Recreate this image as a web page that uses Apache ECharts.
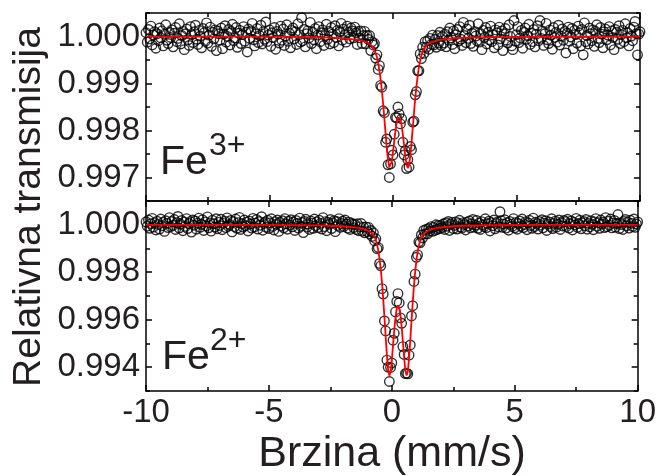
<!DOCTYPE html>
<html>
<head>
<meta charset="utf-8">
<script src="https://cdn.jsdelivr.net/npm/echarts@6/dist/echarts.min.js"></script>
<style>
  html, body { margin: 0; padding: 0; background: #ffffff; }
  #chart { width: 659px; height: 476px; }
</style>
</head>
<body>
<div id="chart"></div>
<script>
// Mössbauer spectra. Transmission is stored as (T - 1) x 1e5, one value per
// velocity channel; channels run from -10 to +10 mm/s in steps of 0.05 mm/s.
const VEL_START = -10;
const VEL_STEP = 0.05;

// Fe3+ spectrum, 401 channels
const fe3Dev = [
  8, -12, 15, -5, 22, -18, 3, 10, -25, 6, -9, 18, -3, 12, -20, 5, 25, -8, -15, 9,
  -2, 14, -22, 7, 19, -11, -4, 27, -16, 2, 11, -28, 6, 16, -7, -19, 21, 4, -13, 10,
  24, -6, -17, 13, 1, -24, 17, 8, -10, 29, -14, 3, 20, -21, 9, -5, 14, -30, 12, 6,
  -8, 18, -26, 5, 23, -12, 0, 15, -18, 11, 26, -9, -3, 19, -23, 7, 13, -15, 4, 21,
  -10, 9, -33, 16, -4, 12, 28, -7, -20, 6, 17, -13, 2, 24, -16, 10, -6, 31, -11, 3,
  14, -21, 8, -2, 19, -27, 11, 5, -14, 22, -8, 16, -19, 1, 25, -10, 7, -24, 13, 18,
  -5, 10, -17, 27, 4, -12, 40, -9, 15, -22, 6, 12, -3, 30, -15, 9, -7, 17, -26, 3,
  21, -11, 8, 14, -19, 2, 26, -6, 11, -16, 19, 5, -13, 23, -2, 13, -20, 10, 28, -8,
  16, 4, -12, 22, 9, -5, 18, 12, -3, 20,
  8, -17, 11, -3, 12, -15, 2, 11, -16, 2, -6,
  2, -30, -11, -18, -15, -46, -39, -70, -62, -104,
  -108, -158, -162, -225, -218, -273, -300, -271, -242, -252,
  -208, -172, -173, -150, -165, -186, -175, -225, -252, -243,
  -281, -262, -278, -234, -241, -182, -180, -124, -117, -73,
  -73, -37, -47, -23, -36, -11, -23, -9, -27, -4,
  -17, 3, -18, -6, -23, 2, -14, 9, -19, 0,
  -14, 5, -22, 10, -8, 18, -3, -17, 12, -26, 4, 15, -10, 21, -6, -19, 30, 2, -13, 16,
  -4, 24, -15, 7, -21, 11, 1, -9, 27, -12, 6, -28, 13, -2, 19, -16, 9, -7, 22, -11,
  3, -24, 14, 8, -18, 20, -5, 12, -30, 6, 17, -8, -14, 25, 0, -20, -28, 34, -10, 4,
  21, -13, -3, 13, -25, 9, 18, -6, 2, 26, -17, 7, -11, 15, -22, 5, 23, -9, 34, -4,
  12, -19, 6, 28, -7, -15, 14, 3, -27, 19, -2, 9, -12, 24, -18, 1, 16, -8, 11, -35,
  7, 20, -10, -1, 17, -26, 13, 4, -14, 22, 8, -20, 15, -39, 29, -11, 2, -16, 18, 6,
  -9, 14, -21, 11, 25, -4, -13, 19, 5, -24, 10, 16, -7, 3, 21, -18, 12, -2, -28, 15,
  9, -6, 23, -15, 4, 13, -11, 27, -3, 8, -20, 17, 1, -9, 20, 32, 6, -39, 5, 10
];

// Fe2+ spectrum, 401 channels
const fe2Dev = [
  12, -6, 20, -15, 4, 27, -10, 8, -22, 15, 1, -18, 24, -4, 10, -28, 17, 6, -12, 30,
  -8, 14, -3, 22, -20, 9, 35, -14, 3, 18, -25, 11, -7, 26, -16, 5, 13, -31, 20, -2,
  16, -19, 7, 28, -11, 2, 21, -24, 12, -5, 33, -13, 8, -27, 19, 4, -9, 25, -17, 10,
  -3, 23, -21, 6, 15, -12, 29, -6, 1, 18, -30, 13, -8, 24, -15, 9, 31, -20, 5, -10,
  20, -4, 11, -26, 16, 3, -14, 27, -9, 7, 22, -18, 14, -2, 34, -23, 6, 12, -11, 19,
  -16, 8, 25, -7, -22, 13, 2, 20, -28, 10, -5, 17, -13, 26, 4, -19, 15, -1, 21, -9,
  11, -24, 18, 5, -14, 28, -6, 9, -33, 14, 23, -10, 3, -20, 16, 7, -15, 24, -4, 12,
  -12, 19, 6, -18, 30, -8, 13, -25, 10, 2, 22, -16, 8, 17, -29, 14, -3, 26, -11, 5,
  15, -7, 20, 3, -14, 11, -20, 8, 2, -12,
  1, -20, 4, -25, -8, 5, -27, -10, -34, -9, -29,
  -11, -39, -24, -49, -34, -68, -59, -101, -96, -163,
  -173, -269, -292, -405, -447, -570, -600, -660, -601, -582,
  -486, -457, -367, -323, -290, -329, -392, -415, -513, -546,
  -627, -625, -628, -549, -506, -384, -341, -239, -208, -137,
  -127, -72, -76, -43, -55, -24, -39, -19, -38, -16,
  -26, -8, -28, -11, -24, 0, -20, -3, -16, -3,
  -12, 4, -20, 8, -6, 14, -24, 2, 10, -16, -3, 12, -18, 6, 19, -9, -14, 9, 1, -22,
  11, -5, 16, -13, 3, 22, -10, -2, 18, -15, 7, -20, 13, 0, -8, 25, -12, 5, 15, -26,
  9, -4, 20, -17, 6, 12, -9, 55, 17, -11, 3, 21, -14, 8, -23, 14, 2, -7, 26, -13,
  10, -19, 5, 16, -6, 24, -12, 1, 13, -21, 8, 19, -3, -15, 28, -8, 11, 4, -18, 14,
  -2, 21, -13, 7, 17, -24, 3, 12, -8, 25, -16, 6, 15, -10, 2, 20, -20, 9, -5, 18,
  13, -7, 23, -14, 4, 16, -22, 10, -1, 27, -11, 5, 19, -17, 8, 14, -4, 22, -19, 6,
  -9, 17, 2, -21, 12, 26, -6, 9, -15, 20, 3, 11, -12, 30, -8, 15, -2, 24, -13, 7,
  18, -10, 5, 43, -16, 9, 1, -20, 14, 22, -4, 11, -14, 19, 6, -7, 24, -11, 3, 12
];

// Velocities (mm/s) at which the fitted doublets are drawn
const fitVel = [
  -10, -6, -4, -3, -2.5, -2,
  -1.5, -1.45, -1.4, -1.35, -1.3, -1.25, -1.2, -1.15, -1.1, -1.05, -1.0,
  -0.95, -0.9, -0.85, -0.8, -0.75, -0.7, -0.65, -0.6, -0.55, -0.5,
  -0.45, -0.4, -0.35, -0.3, -0.25, -0.2, -0.15, -0.1, -0.05, 0,
  0.05, 0.1, 0.15, 0.2, 0.25, 0.3, 0.35, 0.4, 0.45, 0.5,
  0.55, 0.6, 0.65, 0.7, 0.75, 0.8, 0.85, 0.9, 0.95, 1.0,
  1.05, 1.1, 1.15, 1.2, 1.25, 1.3, 1.35, 1.4, 1.45, 1.5,
  1.55, 1.6, 1.65, 1.7, 1.75, 1.8, 1.85, 1.9, 1.95, 2.0,
  2.5, 3, 4, 6, 10
];

// Fitted Fe3+ doublet, (T - 1) x 1e5
const fe3FitDev = [
  -0.2, -0.4, -1, -1.8, -2.5, -3.8,
  -6.5, -6.9, -7.4, -7.9, -8.5, -9.2, -9.9, -10.7, -11.7, -12.8, -14.2,
  -15.8, -17.9, -20.5, -24, -29, -35.5, -44.4, -56.4, -72, -91.6,
  -115.5, -143.4, -174.4, -206.8, -237.8, -263, -277.7, -278.7, -266.9, -246.4,
  -222.7, -200.4, -183, -172.4, -169.9, -175.7, -189.2, -209, -232.2, -255.3,
  -273, -279.9, -273.3, -253.8, -225.8, -193.8, -161.7, -131.8, -105.4, -83.3,
  -65.3, -51.2, -40.6, -32.6, -26.8, -22.5, -19.4, -17, -15.1, -13.6,
  -12.4, -11.3, -10.4, -9.6, -8.9, -8.3, -7.7, -7.2, -6.7, -6.3,
  -3.7, -2.4, -1.3, -0.5, -0.2
];

// Fitted Fe2+ doublet, (T - 1) x 1e5
const fe2FitDev = [
  -0.3, -0.8, -1.7, -3, -4.2, -6.3,
  -10.9, -11.6, -12.4, -13.3, -14.2, -15.3, -16.5, -17.9, -19.5, -21.3, -23.3,
  -25.8, -28.8, -32.4, -37.2, -43.7, -52.6, -65.3, -83.3, -108.4, -142.6,
  -187.5, -244, -312, -389.5, -471.8, -550, -609.7, -635.2, -619.3, -570.4,
  -505.9, -441.7, -388.6, -353.3, -339.6, -348.8, -380, -430, -492.6, -558.1,
  -611.6, -635.2, -617.9, -563.9, -488, -405.7, -326.9, -256.8, -197.9, -150.6,
  -114.5, -87.7, -68.4, -54.8, -45.2, -38.3, -33.3, -29.4, -26.4, -23.8,
  -21.7, -19.8, -18.3, -16.8, -15.6, -14.4, -13.5, -12.6, -11.8, -11,
  -6.4, -4.2, -2.2, -0.9, -0.3
];

// Axis ranges and tick values
const velRange = [-10, 10];
const fe3Range = [0.9965, 1.0005];
const fe2Range = [0.993, 1.001];
const fe3Ticks = [0.997, 0.998, 0.999, 1.000];
const fe3MinorTicks = [0.9965, 0.9975, 0.9985, 0.9995, 1.0005];
const fe2Ticks = [0.994, 0.996, 0.998, 1.000];
const fe2MinorTicks = [0.993, 0.995, 0.997, 0.999, 1.001];

const toT = d => 1 + d * 1e-5;
const channelPoints = devs => devs.map((d, i) => [VEL_START + i * VEL_STEP, toT(d)]);
const fitPoints = devs => fitVel.map((v, i) => [v, toT(devs[i])]);

const INK = '#231f20';
const FONT = '"Liberation Sans", Arial, Helvetica, sans-serif';
const TICK_FONT = 33;
const axisLine = { show: true, onZero: false, lineStyle: { color: '#000', width: 1.5 } };
const hiddenLine = { show: false, onZero: false };

function xAxisDef(gridIndex, position, showLabels) {
  return {
    type: 'value', gridIndex, position,
    min: velRange[0], max: velRange[1], interval: 5,
    axisLine,
    axisTick: { show: true, inside: true, length: 6, lineStyle: { color: '#000', width: 1.5 } },
    minorTick: { show: true, splitNumber: 2, length: 4, lineStyle: { color: '#000', width: 1.5 } },
    axisLabel: {
      show: showLabels, color: INK, fontFamily: FONT, fontSize: TICK_FONT, margin: 5,
      formatter: v => String(v)
    },
    splitLine: { show: false },
    minorSplitLine: { show: false }
  };
}

function yAxisDef(gridIndex, position, range, ticks, len, showLabels, lineShown) {
  return {
    type: 'value', gridIndex, position,
    min: range[0], max: range[1],
    axisLine: lineShown ? axisLine : hiddenLine,
    axisTick: {
      show: true, inside: true, length: len, customValues: ticks,
      lineStyle: { color: '#000', width: 1.5 }
    },
    axisLabel: {
      show: showLabels, customValues: ticks, color: INK, fontFamily: FONT,
      fontSize: TICK_FONT, margin: 6, formatter: v => v.toFixed(3)
    },
    splitLine: { show: false }
  };
}

function scatterSeries(xi, yi, data) {
  return {
    type: 'scatter', xAxisIndex: xi, yAxisIndex: yi, data,
    symbol: 'circle', symbolSize: 9.5, z: 2,
    itemStyle: { color: 'rgba(255,255,255,0)', borderColor: '#000', borderWidth: 1.4 },
    emphasis: { disabled: true }, silent: true
  };
}

function fitSeries(xi, yi, data) {
  return {
    type: 'line', xAxisIndex: xi, yAxisIndex: yi, data,
    showSymbol: false, symbol: 'none', z: 3,
    lineStyle: { color: '#ff0000', width: 1.8 },
    emphasis: { disabled: true }, silent: true
  };
}

const chart = echarts.init(document.getElementById('chart'), null, { renderer: 'canvas' });

chart.setOption({
  animation: false,
  backgroundColor: '#ffffff',
  grid: [
    { left: 146, right: 19, top: 13, height: 188 },
    { left: 146, right: 19, top: 201, height: 190 }
  ],
  xAxis: [
    xAxisDef(0, 'bottom', false),
    xAxisDef(0, 'top', false),
    xAxisDef(1, 'bottom', true),
    xAxisDef(1, 'top', false)
  ],
  yAxis: [
    yAxisDef(0, 'left', fe3Range, fe3Ticks, 6, true, true),
    yAxisDef(0, 'left', fe3Range, fe3MinorTicks, 4, false, false),
    yAxisDef(0, 'right', fe3Range, fe3Ticks, 6, false, true),
    yAxisDef(0, 'right', fe3Range, fe3MinorTicks, 4, false, false),
    yAxisDef(1, 'left', fe2Range, fe2Ticks, 6, true, true),
    yAxisDef(1, 'left', fe2Range, fe2MinorTicks, 4, false, false),
    yAxisDef(1, 'right', fe2Range, fe2Ticks, 6, false, true),
    yAxisDef(1, 'right', fe2Range, fe2MinorTicks, 4, false, false)
  ],
  series: [
    scatterSeries(0, 0, channelPoints(fe3Dev)),
    fitSeries(0, 0, fitPoints(fe3FitDev)),
    scatterSeries(2, 4, channelPoints(fe2Dev)),
    fitSeries(2, 4, fitPoints(fe2FitDev))
  ],
  graphic: [
    {
      type: 'text', x: 29, y: 207, rotation: Math.PI / 2,
      style: { text: 'Relativna transmisija', font: '39px ' + FONT, fill: INK, align: 'center', verticalAlign: 'middle' }
    },
    {
      type: 'text', x: 392, y: 454,
      style: { text: 'Brzina (mm/s)', font: '43px ' + FONT, fill: INK, align: 'center', verticalAlign: 'middle' }
    },
    {
      type: 'text', x: 160, y: 163,
      style: { text: 'Fe', font: '41px ' + FONT, fill: INK, align: 'left', verticalAlign: 'middle' }
    },
    {
      type: 'text', x: 209, y: 146,
      style: { text: '3+', font: '32px ' + FONT, fill: INK, align: 'left', verticalAlign: 'middle' }
    },
    {
      type: 'text', x: 162, y: 358,
      style: { text: 'Fe', font: '41px ' + FONT, fill: INK, align: 'left', verticalAlign: 'middle' }
    },
    {
      type: 'text', x: 210, y: 341,
      style: { text: '2+', font: '32px ' + FONT, fill: INK, align: 'left', verticalAlign: 'middle' }
    }
  ]
});
</script>
</body>
</html>
